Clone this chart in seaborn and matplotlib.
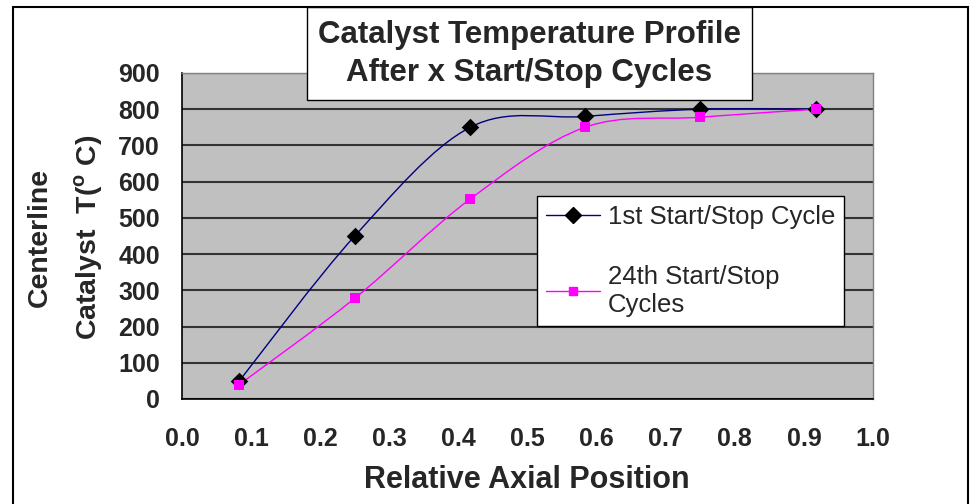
import matplotlib
matplotlib.use("Agg")
import matplotlib.pyplot as plt
import seaborn as sns
import numpy as np
import pandas as pd
from matplotlib.path import Path
from matplotlib.patches import PathPatch, Rectangle
from matplotlib.lines import Line2D

# data
position = [0.083, 0.25, 0.417, 0.583, 0.75, 0.917]
temp_1st = [50, 450, 750, 780, 800, 800]
temp_24th = [40, 278, 552, 750, 778, 800]
series_names = ["1st Start/Stop Cycle", "24th Start/Stop\nCycles"]
x_ticks = [0.0, 0.1, 0.2, 0.3, 0.4, 0.5, 0.6, 0.7, 0.8, 0.9, 1.0]
y_ticks = [0, 100, 200, 300, 400, 500, 600, 700, 800, 900]

sns.set_style("white")
plt.rcParams['font.family'] = ['Liberation Sans', 'DejaVu Sans']
plt.rcParams['mathtext.fontset'] = 'custom'
plt.rcParams['mathtext.bf'] = 'Liberation Sans:bold'
plt.rcParams['mathtext.rm'] = 'Liberation Sans'


def smooth_path(xs, ys):
    # excel-like smoothed line: bezier segments through every point
    pts = np.column_stack([xs, ys]).astype(float)
    n = len(pts)
    verts = [pts[0]]
    codes = [Path.MOVETO]
    for i in range(n - 1):
        p0 = pts[i - 1] if i > 0 else pts[i]
        p1 = pts[i]
        p2 = pts[i + 1]
        p3 = pts[i + 2] if i + 2 < n else pts[i + 1]
        c1 = p1 + (p2 - p0) / 6.0
        c2 = p2 - (p3 - p1) / 6.0
        verts += [c1, c2, p2]
        codes += [Path.CURVE4] * 3
    return Path(verts, codes)


fig = plt.figure(figsize=(9.71, 5.04), dpi=100)
ax = fig.add_axes([182 / 971, 1 - 399 / 504, 691 / 971, 326 / 504])
ax.set_facecolor("#C0C0C0")

ax.add_patch(PathPatch(smooth_path(position, temp_1st), fill=False,
                       edgecolor="#000080", lw=1.0, zorder=3))
ax.add_patch(PathPatch(smooth_path(position, temp_24th), fill=False,
                       edgecolor="#FF00FF", lw=1.0, zorder=3))

df = pd.DataFrame({"pos": position, "t1": temp_1st, "t24": temp_24th})
sns.scatterplot(data=df, x="pos", y="t1", marker="D", color="black", s=80,
                edgecolor="black", linewidth=0, ax=ax, zorder=4)
sns.scatterplot(data=df, x="pos", y="t24", marker="s", color="#FF00FF", s=50,
                edgecolor="#FF00FF", linewidth=0, ax=ax, zorder=5)

ax.set_xlim(0, 1)
ax.set_ylim(0, 900)
ax.set_xticks(x_ticks)
ax.set_yticks(y_ticks)
ax.set_xticklabels([f"{v:.1f}" for v in x_ticks], fontsize=18, fontweight="bold")
ax.set_yticklabels([str(v) for v in y_ticks], fontsize=18, fontweight="bold")
ax.tick_params(direction="out", length=6, width=1, color="black")
ax.tick_params(axis="x", pad=14)
ax.tick_params(axis="y", pad=10)
ax.grid(axis="y", color="#333333", lw=1.5)
ax.set_axisbelow(True)
for side in ["left", "bottom"]:
    ax.spines[side].set_color("black")
    ax.spines[side].set_linewidth(1.2)
for side in ["top", "right"]:
    ax.spines[side].set_color("#808080")
    ax.spines[side].set_linewidth(1.0)

ax.set_xlabel("")
ax.set_ylabel("")
fig.text(527 / 971, 1 - 480 / 504, "Relative Axial Position", ha="center",
         va="center", fontsize=22, fontweight="bold")
fig.text(40 / 971, 1 - 237 / 504, "Centerline", rotation=90, ha="center",
         va="center", fontsize=20.5, fontweight="bold")
fig.text(89 / 971, 1 - 237 / 504, r"Catalyst  T($^\mathbf{o}$ C)", rotation=90,
         ha="center", va="center", fontsize=20.5, fontweight="bold")

handles = [
    Line2D([], [], color="#000080", lw=1, marker="D", markersize=8,
           markerfacecolor="black", markeredgecolor="black"),
    Line2D([], [], color="#FF00FF", lw=1, marker="s", markersize=6,
           markerfacecolor="#FF00FF", markeredgecolor="#FF00FF"),
]
leg = ax.legend(handles, series_names, loc="upper left",
                bbox_to_anchor=((537 - 182) / 691, (399 - 196) / 326),
                borderaxespad=0, fontsize=18.5, frameon=True, fancybox=False,
                framealpha=1, edgecolor="black", handlelength=2.1,
                labelspacing=1.4, borderpad=0.35, handletextpad=0.3)
leg.get_frame().set_linewidth(1.0)

# title box overlapping the plot
fig.patches.append(Rectangle((307 / 971, 1 - 100 / 504), 445 / 971, 93 / 504,
                             transform=fig.transFigure, facecolor="white",
                             edgecolor="black", lw=1.0, zorder=10))
fig.text(529 / 971, 1 - 35 / 504, "Catalyst Temperature Profile", ha="center",
         va="center", fontsize=22.5, fontweight="bold", zorder=11)
fig.text(529 / 971, 1 - 73 / 504, "After x Start/Stop Cycles", ha="center",
         va="center", fontsize=22.5, fontweight="bold", zorder=11)

# outer chart border
fig.patches.append(Rectangle((13 / 971, -0.05), 955 / 971, 1.05 - 7 / 504,
                             transform=fig.transFigure, fill=False,
                             edgecolor="black", lw=1.5, zorder=12))

fig.savefig("out.png", dpi=100)
